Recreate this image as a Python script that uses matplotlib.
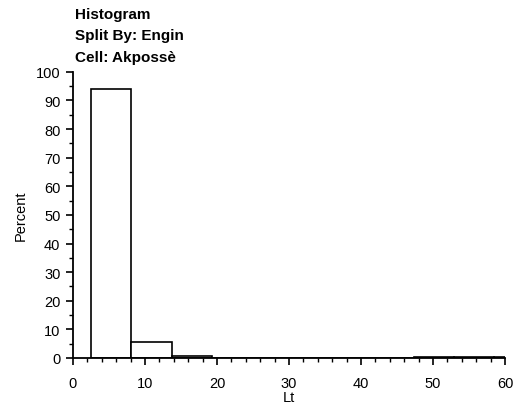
import matplotlib
matplotlib.use("Agg")
import matplotlib.pyplot as plt
from matplotlib.ticker import MultipleLocator

plt.rcParams['font.family'] = ['Liberation Sans', 'DejaVu Sans']

# histogram bins (left edges) and percent per bin
bin_left = [2.5, 8.1, 13.7, 19.3, 24.9, 30.5, 36.1, 41.7, 47.3, 52.9, 58.5]
bin_width = 5.6
percent = [94.0, 5.5, 0.7, 0.0, 0.0, 0.0, 0.0, 0.0, 0.3, 0.3, 0.3]

title_lines = ["Histogram", "Split By: Engin", "Cell: Akpossè"]

fig = plt.figure(figsize=(5.17, 4.14), dpi=100)
ax = fig.add_axes([0.141, 0.133, 0.836, 0.691])

ax.bar(bin_left, percent, width=bin_width, align='edge',
       facecolor='white', edgecolor='black', linewidth=1.2)

ax.set_xlim(0, 60)
ax.set_ylim(0, 100)
ax.xaxis.set_major_locator(MultipleLocator(10))
ax.xaxis.set_minor_locator(MultipleLocator(2))
ax.yaxis.set_major_locator(MultipleLocator(10))
ax.yaxis.set_minor_locator(MultipleLocator(5))

for side in ['top', 'right']:
    ax.spines[side].set_visible(False)
for side in ['left', 'bottom']:
    ax.spines[side].set_linewidth(1.3)

ax.tick_params(which='major', direction='out', length=5, width=1.2,
               labelsize=10.5)
ax.tick_params(axis='x', which='major', pad=8)
ax.tick_params(axis='y', which='major', pad=4)
ax.tick_params(which='minor', direction='out', length=3, width=1.0)

ax.set_xlabel("Lt", fontsize=10.5, labelpad=0)
ax.set_ylabel("Percent", fontsize=10.5, labelpad=6)

for i, line in enumerate(title_lines):
    fig.text(0.145, 0.964 - i * 0.052, line, fontsize=11, fontweight='bold',
             ha='left', va='center')

fig.savefig("out.png", dpi=100)
